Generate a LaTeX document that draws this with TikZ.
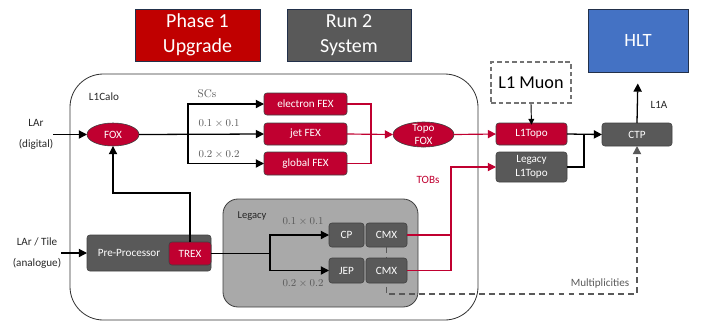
\documentclass[tikz,border=0pt]{standalone}
\usepackage{fontspec}
\newfontfamily\carl{Carlito}
\usetikzlibrary{shapes.geometric,arrows.meta}
\definecolor{pred}{HTML}{C00000}
\definecolor{nred}{HTML}{C00030}
\definecolor{dgray}{HTML}{595959}
\definecolor{lgray}{HTML}{A9A9A9}
\definecolor{hblue}{HTML}{4472C4}
\definecolor{navy}{HTML}{22304A}
\newcommand\mybox[7]{\node[#2,minimum width={(#5-#3)*0.03cm},minimum height={(#6-#4)*0.03cm}] (#1) at ({(#3+#5)/2},{(#4+#6)/2}) {#7};}
\begin{document}
\begin{tikzpicture}[x=0.03cm,y=-0.03cm,
  arr/.style={line width=1.1pt,-{Triangle[length=7pt,width=7pt]}},
  ln/.style={line width=1.1pt},
  rln/.style={nred,line width=1pt},
  rarr/.style={rln,-{Triangle[length=7pt,width=7pt]}},
  box/.style={rectangle,rounded corners=2.5pt,inner sep=0pt,outer sep=0pt,draw=black!75,line width=0.5pt,text=white,font=\carl\fontsize{9.5}{12}\selectfont,align=center},
  rbox/.style={box,fill=nred},
  gbox/.style={box,fill=dgray},
  ell/.style={ellipse,inner sep=0pt,outer sep=0pt,draw=black!75,line width=0.5pt,fill=nred,text=white,font=\carl\fontsize{9.5}{11}\selectfont,align=center},
  legend/.style={rectangle,inner sep=0pt,draw=navy,line width=0.6pt,text=white,font=\carl\fontsize{17}{21}\selectfont,align=center},
  lbl/.style={font=\carl\fontsize{9.5}{18}\selectfont,text=black!85,align=center,inner sep=0pt},
  mth/.style={text=black!65,font=\fontsize{9.5}{11}\selectfont,inner sep=0pt},
  dsh/.style={dgray,line width=1.3pt,dash pattern=on 5pt off 3.5pt,-{Triangle[length=7pt,width=7pt]}}
]
\useasboundingbox (0,0) rectangle (702,322);
% legend and HLT
\mybox{ph}{legend,fill=pred}{135}{9}{260}{61}{Phase 1\\Upgrade}
\mybox{rs}{legend,fill=dgray}{287}{9}{411}{61}{Run 2\\System}
\mybox{hlt}{rectangle,fill=hblue,draw=navy,line width=0.8pt,text=white,font=\carl\fontsize{16}{18}\selectfont}{588}{9}{688}{72}{HLT}
% containers
\mybox{calo}{rectangle,draw=black!80,line width=0.7pt,rounded corners=1cm}{70}{74}{478}{320}{}
\node[lbl] (calot) at (104,97) {L1Calo};
\mybox{leg}{rectangle,fill=lgray,draw=black!75,line width=0.7pt,rounded corners=0.45cm}{223}{199}{418}{307}{}
\node[lbl,font=\carl\fontsize{9}{11}\selectfont] (legt) at (252,216) {Legacy};
% nodes needed for dashed line
\mybox{ctp}{gbox}{602}{123}{672}{146}{CTP}
\mybox{cmx1}{gbox}{366}{223}{407}{247}{CMX}
\coordinate (dc) at (386.5,294);
\draw[dsh] (cmx1.south) -- (dc) -| (ctp.south);
\node[lbl,text=dgray,font=\carl\fontsize{9.5}{11}\selectfont] (mult) at (600,284) {Multiplicities};
% other nodes
\mybox{cp}{gbox}{329}{223}{364}{247}{CP}
\mybox{jep}{gbox}{329}{258}{364}{283}{JEP}
\mybox{cmx2}{gbox}{366}{258}{407}{283}{CMX}
\mybox{fox}{ell}{87}{123}{139}{146}{FOX}
\mybox{tfox}{ell,label={[text=white,font=\carl\fontsize{9.5}{11}\selectfont,align=center,inner sep=0pt]center:Topo\\FOX}}{393}{122}{454}{147}{}
\mybox{efex}{rbox}{264}{93}{347}{115}{electron FEX}
\mybox{jfex}{rbox}{264}{123}{347}{145}{jet FEX}
\mybox{gfex}{rbox}{264}{152}{347}{175}{global FEX}
\mybox{l1topo}{rbox}{496}{123}{567}{145}{L1Topo}
\mybox{ll1topo}{gbox,font=\carl\fontsize{9.5}{12}\selectfont}{496}{152}{567}{182}{Legacy\\L1Topo}
\mybox{muon}{rectangle,draw=black!55,line width=1.5pt,dash pattern=on 4pt off 2.5pt,font=\carl\fontsize{15.5}{18}\selectfont}{491}{62}{571}{103}{L1 Muon}
\mybox{pp}{gbox}{87}{235}{211}{271}{}
\node[lbl,text=white,font=\carl\fontsize{9.5}{11}\selectfont] (ppt) at (129,253) {Pre-Processor};
\mybox{trex}{rbox}{169}{242}{211}{265}{TREX}
% labels
\node[lbl] (lar) at (36,134.5) {LAr\\(digital)};
\node[lbl,font=\carl\fontsize{9.5}{18.5}\selectfont] (lart) at (37,253) {LAr / Tile\\(analogue)};
\node[mth] (sc) at (207,94) {SCs};
\node[mth] (m1) at (219,124) {$0.1\times0.1$};
\node[mth] (m2) at (219,155) {$0.2\times0.2$};
\node[mth] (m3) at (303,222) {$0.1\times0.1$};
\node[mth] (m4) at (303,284) {$0.2\times0.2$};
\node[lbl,text=nred] (tobs) at (428,180) {TOBs};
\node[lbl] (l1a) at (659,105) {L1A};
% black connectors
\draw[arr] (lar.east) -- (fox.west);
\coordinate (j1) at (188,134);
\draw[arr] (fox.east) -- (jfex.west);
\draw[arr] (j1) |- (efex.west);
\draw[arr] (j1) |- (gfex.west);
\draw[arr] (lart.east |- pp.west) -- (pp.west);
\coordinate (k) at (113,193);
\draw[arr] (trex.north) |- (k) -- (fox.south);
\coordinate (j6) at (270,253.5);
\draw[ln] (trex.east) -- (j6);
\draw[arr] (j6) |- (cp.west);
\draw[arr] (j6) |- (jep.west);
\draw[line width=0.8pt,-{Triangle[length=5pt,width=5pt]}] (muon.south) -- ([yshift=-1.5pt]l1topo.north);
\draw[arr] (l1topo.east) -- (ctp.west);
\coordinate (j4) at (584,134);
\draw[ln] (ll1topo.east) -| (j4);
\draw[arr,shorten >=11*0.03cm] (ctp.north) -- (hlt.south);
% red connectors
\coordinate (j2) at (371,134);
\draw[rln] (efex.east) -| (j2);
\draw[rln] (gfex.east) -| (j2);
\draw[rarr] (jfex.east) -- (tfox.west);
\draw[rarr] (tfox.east) -- (l1topo.west);
\coordinate (j3) at (451,167);
\draw[rln] (cmx1.east) -| (j3);
\draw[rarr] (cmx2.east) -| (j3) -- (ll1topo.west);
\end{tikzpicture}
\end{document}
